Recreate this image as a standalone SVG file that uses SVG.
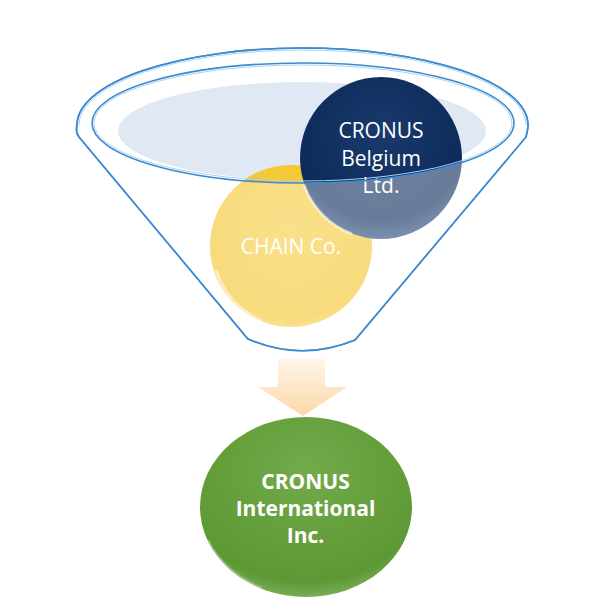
<svg xmlns="http://www.w3.org/2000/svg" width="605" height="603" viewBox="0 0 605 603">
<style>
.rim{fill:none;stroke:#3d8ad0;stroke-width:1.6}
.rimhi{fill:none;stroke:#a9d3f5;stroke-width:1}
.lbl{font-family:"Open Sans","Noto Sans","Liberation Sans",sans-serif;font-size:21px;fill:#ffffff;text-anchor:middle}
.lblb{font-family:"Open Sans","Noto Sans","Liberation Sans",sans-serif;font-size:21px;font-weight:bold;fill:#ffffff;text-anchor:middle}
</style>
<defs>
<radialGradient id="gNavy" cx="0.5" cy="0.35" r="0.65">
<stop offset="0" stop-color="#1a3a6c"/>
<stop offset="0.82" stop-color="#0c2b5a"/>
<stop offset="1" stop-color="#2a4c7e"/>
</radialGradient>
<radialGradient id="gYel" cx="0.5" cy="0.4" r="0.65">
<stop offset="0" stop-color="#f7cd42"/>
<stop offset="0.85" stop-color="#f4c52e"/>
<stop offset="1" stop-color="#f8d870"/>
</radialGradient>
<radialGradient id="gGreen" cx="0.5" cy="0.3" r="0.7">
<stop offset="0" stop-color="#72ab4a"/>
<stop offset="0.88" stop-color="#5c9834"/>
<stop offset="1" stop-color="#78ad55"/>
</radialGradient>
<linearGradient id="gArrow" x1="0" y1="0" x2="0" y2="1">
<stop offset="0" stop-color="#fff6ea"/>
<stop offset="0.5" stop-color="#fde6c8"/>
<stop offset="1" stop-color="#fcd8aa"/>
</linearGradient>
</defs>

<g id="funnel-back">
<path d="M 79 137 C 76 133 76 129 77 125 A 225.5 77 0 0 1 528 125 C 528 129 527 133 526 137 L 355 340 Q 301 362 248 339 Z" fill="#ffffff" class="rim"/>
<ellipse cx="302" cy="131" rx="184" ry="49" fill="#dfe8f3"/>
</g>

<g id="node-chain">
<circle cx="291" cy="246" r="81" fill="url(#gYel)"/>
<path d="M 216 270 A 81 81 0 0 0 262 321" fill="none" stroke="#ffffff" stroke-opacity="0.5" stroke-width="3"/>
<text class="lbl" x="291" y="254" font-size="22" fill="#fff6dc">CHAIN Co.</text>
</g>

<g id="node-belgium">
<circle cx="381" cy="158" r="81" fill="url(#gNavy)"/>
<path d="M 304 185 A 81 81 0 0 0 352 234" fill="none" stroke="#ffffff" stroke-opacity="0.5" stroke-width="3"/>
<text class="lbl"><tspan x="381" y="138">CRONUS</tspan><tspan x="381" y="165.5">Belgium</tspan><tspan x="381" y="193">Ltd.</tspan></text>
</g>

<g id="funnel-front">
<path d="M 92 123 A 211 60 0 0 0 514 123 L 526 137 L 355 340 Q 301 362 248 339 L 79 137 Z" fill="#ffffff" fill-opacity="0.38"/>
<ellipse cx="303" cy="123" rx="211" ry="60" class="rim" stroke-width="2"/>
<ellipse cx="303" cy="123" rx="209" ry="58" class="rimhi"/>
<path d="M 79 137 C 76 133 76 129 77 125 A 225.5 77 0 0 1 528 125 C 528 129 527 133 526 137 L 355 340 Q 301 362 248 339 Z" class="rim"/>
<path d="M 79 125 A 223.5 75 0 0 1 526 125" class="rimhi"/>
</g>

<g id="connectors">
<path d="M 278 359 L 325 359 L 325 387 L 347 387 L 303 416 L 258 387 L 278 387 Z" fill="url(#gArrow)"/>
</g>

<g id="node-international">
<ellipse cx="306" cy="507" rx="106" ry="90" fill="url(#gGreen)"/>
<path d="M 208 540 A 106 90 0 0 0 262 588" fill="none" stroke="#ffffff" stroke-opacity="0.3" stroke-width="2.5"/>
<text class="lblb"><tspan x="305.5" y="489">CRONUS</tspan><tspan x="305.5" y="516">International</tspan><tspan x="305.5" y="543">Inc.</tspan></text>
</g>
</svg>
